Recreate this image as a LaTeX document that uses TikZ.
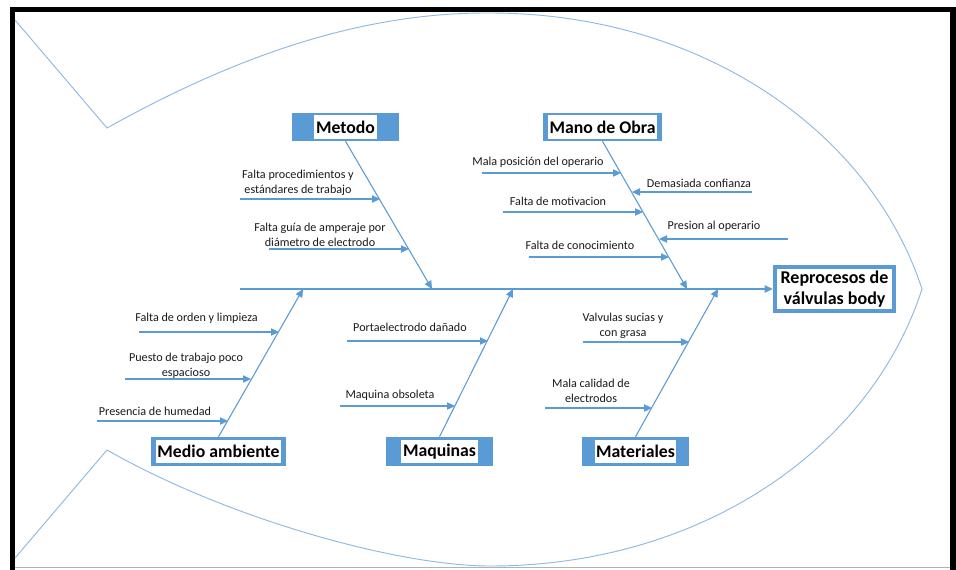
\documentclass[tikz,border=0pt]{standalone}
\usepackage{fontspec}
\setmainfont{Carlito}
\usetikzlibrary{arrows.meta}
\definecolor{bl}{HTML}{5B9BD5}
\definecolor{fishc}{HTML}{8FB9E3}
\definecolor{txt}{HTML}{1A1A1A}
\begin{document}
\begin{tikzpicture}[x=0.75pt,y=-0.75pt,
  arr/.style={draw=bl, line width=0.8pt, -{Triangle[length=6pt,width=5.5pt]}},
  lbl/.style={font=\fontsize{9.1}{11.25}\selectfont, align=center, inner sep=0pt, text=txt},
  catbox/.style={fill=bl, minimum height=21pt, inner sep=0pt},
  cattxt/.style={fill=white, font=\fontsize{13.3}{15}\selectfont\bfseries, inner xsep=1.2pt, inner ysep=1.6pt, minimum height=17.5pt, text=black},
  fish/.style={draw=fishc, line width=0.7pt},
]
\useasboundingbox (0,0) rectangle (956,569);
\fill[white] (0,0) rectangle (956,569);

% frame
\draw[black, line width=3.9pt] (12.5,575) -- (12.5,9.5) -- (953,9.5) -- (953,575);
\draw[black!30, line width=1pt] (15,567.5) -- (950,567.5);

% fish outline
\draw[fish] (15,20) -- (107,128)
  .. controls (220,65) and (350,12) .. (490,13)
  .. controls (700,13) and (870,130) .. (922,289)
  .. controls (870,450) and (700,566) .. (490,566)
  .. controls (400,566) and (230,520) .. (107,450)
  -- (15,558);

% head
\node[fill=bl, minimum width=92.25pt, minimum height=36pt, inner sep=0pt] (headbg) at (834.5,289) {};
\node[fill=white, minimum width=86.25pt, minimum height=30pt, inner sep=0pt, align=center,
      font=\fontsize{13.5}{15.75}\selectfont\bfseries] (head) at (headbg) {Reprocesos de\\válvulas body};

% categories
\node[catbox, minimum width=80.25pt] (metodo) at (345.5,127) {};
\node[cattxt] at (metodo) {Metodo};
\node[catbox, minimum width=89.25pt] (mano) at (602.5,127) {};
\node[cattxt] at (mano) {Mano de Obra};
\node[catbox, minimum width=101.25pt, minimum height=21.75pt] (medio) at (218.5,451.5) {};
\node[cattxt] at (medio) {Medio ambiente};
\node[catbox, minimum width=80.25pt, minimum height=21.75pt] (maq) at (439.5,451.5) {};
\node[cattxt] at (maq) {Maquinas};
\node[catbox, minimum width=80.25pt, minimum height=21.75pt] (mat) at (635.5,451.5) {};
\node[cattxt] at (mat) {Materiales};

% spine
\coordinate (spineL) at (240,289);
\draw[arr] (spineL) -- (headbg.west);

% bone tips on spine
\coordinate (tMet) at (432,289);
\coordinate (tMan) at (687,289);
\coordinate (tMed) at (303,289);
\coordinate (tMaq) at (513,289);
\coordinate (tMat) at (718,289);
\draw[arr] (metodo.south) -- (tMet);
\draw[arr] (mano.south) -- (tMan);
\draw[arr] (medio.north) -- (tMed);
\draw[arr] (maq.north) -- (tMaq);
\draw[arr] (mat.north) -- (tMat);

% Metodo causes
\coordinate (a1s) at (240,199); \coordinate (a1e) at (380,199);
\node[lbl] (a1) at (298,182.5) {Falta procedimientos y\\estándares de trabajo};
\draw[arr] (a1s) -- (a1e);
\coordinate (a2s) at (269,249); \coordinate (a2e) at (409,249);
\node[lbl] (a2) at (320,234.5) {Falta guía de amperaje por\\diámetro de electrodo};
\draw[arr] (a2s) -- (a2e);

% Mano de obra causes
\coordinate (b1s) at (482,173); \coordinate (b1e) at (621,173);
\node[lbl] (b1) at (538,162) {Mala posición del operario};
\draw[arr] (b1s) -- (b1e);
\coordinate (b2s) at (752,192); \coordinate (b2e) at (632,192);
\node[lbl] (b2) at (699,183) {Demasiada confianza};
\draw[arr] (b2s) -- (b2e);
\coordinate (b3s) at (503,212); \coordinate (b3e) at (643,212);
\node[lbl] (b3) at (558,201) {Falta de motivacion};
\draw[arr] (b3s) -- (b3e);
\coordinate (b4s) at (788,239); \coordinate (b4e) at (659,239);
\node[lbl] (b4) at (714,226) {Presion al operario};
\draw[arr] (b4s) -- (b4e);
\coordinate (b5s) at (529,257); \coordinate (b5e) at (669,257);
\node[lbl] (b5) at (580,245) {Falta de conocimiento};
\draw[arr] (b5s) -- (b5e);

% Medio ambiente causes
\coordinate (c1s) at (139,332); \coordinate (c1e) at (279,332);
\node[lbl] (c1) at (196.5,318) {Falta de orden y limpieza};
\draw[arr] (c1s) -- (c1e);
\coordinate (c2s) at (125,379); \coordinate (c2e) at (251,379);
\node[lbl] (c2) at (186,365.5) {Puesto de trabajo poco\\espacioso};
\draw[arr] (c2s) -- (c2e);
\coordinate (c3s) at (97,421); \coordinate (c3e) at (228,421);
\node[lbl] (c3) at (155,411) {Presencia de humedad};
\draw[arr] (c3s) -- (c3e);

% Maquinas causes
\coordinate (d1s) at (347,341); \coordinate (d1e) at (488,341);
\node[lbl] (d1) at (410,327) {Portaelectrodo dañado};
\draw[arr] (d1s) -- (d1e);
\coordinate (d2s) at (340,406); \coordinate (d2e) at (455,406);
\node[lbl] (d2) at (390,395) {Maquina obsoleta};
\draw[arr] (d2s) -- (d2e);

% Materiales causes
\coordinate (e1s) at (583,342); \coordinate (e1e) at (689,342);
\node[lbl] (e1) at (623,326) {Valvulas sucias y\\con grasa};
\draw[arr] (e1s) -- (e1e);
\coordinate (e2s) at (545,408); \coordinate (e2e) at (652,408);
\node[lbl] (e2) at (591,390.5) {Mala calidad de\\electrodos};
\draw[arr] (e2s) -- (e2e);
\end{tikzpicture}
\end{document}
